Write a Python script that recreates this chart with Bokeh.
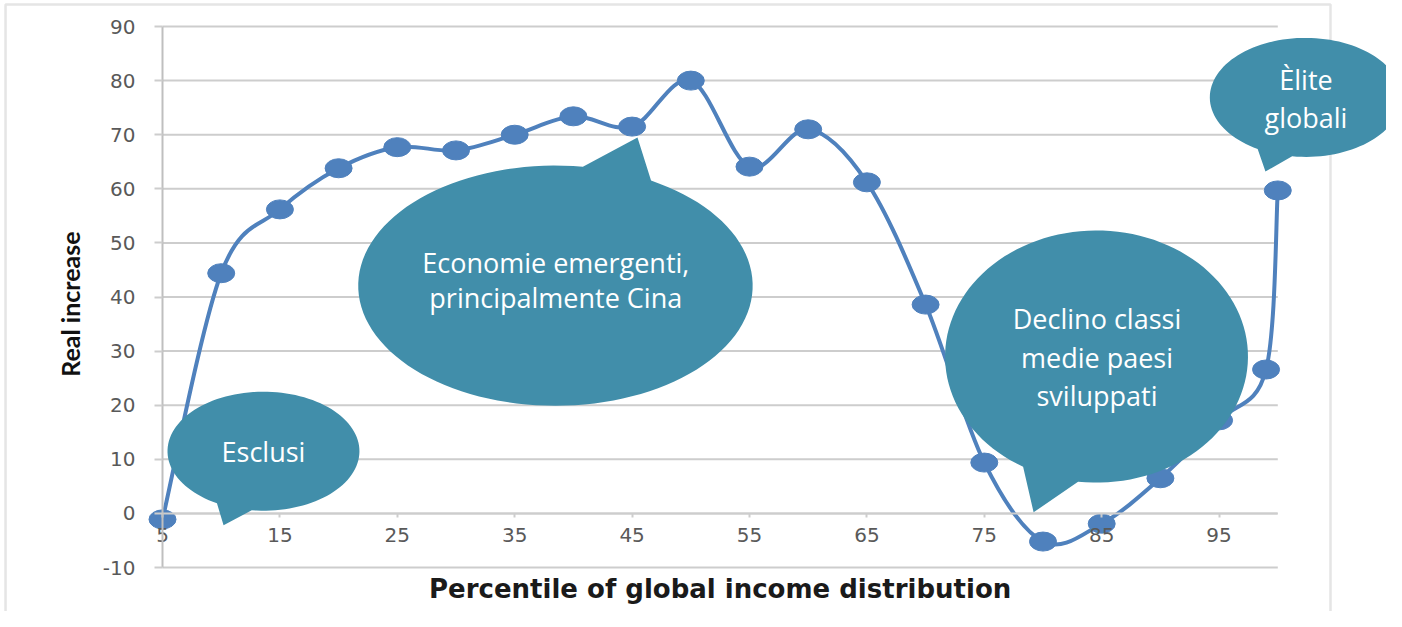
import numpy as np
from bokeh.plotting import figure
from bokeh.models import Range1d, FixedTicker, Label, PolyAnnotation
from bokeh.embed import file_html
from bokeh.resources import INLINE

# ---------------- data ----------------
percentile = [5, 10, 15, 20, 25, 30, 35, 40, 45, 50, 55, 60, 65, 70, 75, 80, 85, 90, 95, 99, 100]
real_increase = [-1.1, 44.4, 56.2, 63.8, 67.7, 67.1, 70.0, 73.4, 71.5, 80.0, 64.1, 71.0,
                 61.2, 38.6, 9.4, -5.2, -1.9, 6.5, 17.2, 26.6, 59.7]
x_tick_labels = [5, 15, 25, 35, 45, 55, 65, 75, 85, 95]
y_tick_labels = [-10, 0, 10, 20, 30, 40, 50, 60, 70, 80, 90]

x_title = "Percentile of global income distribution"
y_title = "Real increase"

callout_texts = [
    ["Esclusi"],
    ["Economie emergenti,", "principalmente Cina"],
    ["Declino classi", "medie paesi", "sviluppati"],
    ["Èlite", "globali"],
]

# ---------------- styles ----------------
LINE_COLOR = "#4F81BD"
BUBBLE = "#418EAA"
GRID = "#cdcdcd"
TICK_TXT = "#595959"
X_MIN, X_MAX = 5, 100
Y_MIN, Y_MAX = -10, 90

# the frame fills the whole canvas; axes sit at fixed data positions
p = figure(width=1386, height=611,
           x_range=Range1d(-8.80, 109.26), y_range=Range1d(-18.13, 94.81),
           output_backend="svg", toolbar_location=None,
           min_border_left=0, min_border_right=0, min_border_top=0, min_border_bottom=0)
p.outline_line_color = None
p.background_fill_color = "white"
p.border_fill_color = "white"
p.xgrid.visible = False
p.ygrid.visible = False

# gridlines limited to the plot area
p.segment(x0=[X_MIN] * len(y_tick_labels), y0=y_tick_labels,
          x1=[X_MAX] * len(y_tick_labels), y1=y_tick_labels,
          line_color=GRID, line_width=2, level="underlay")

# x axis crossing at 0
xa = p.xaxis[0]
xa.fixed_location = 0
xa.bounds = (X_MIN, X_MAX)
xa.ticker = FixedTicker(ticks=x_tick_labels)
xa.major_tick_out = 4
xa.major_tick_in = 0
xa.minor_tick_out = 0
xa.minor_tick_in = 0
xa.axis_line_color = GRID
xa.axis_line_width = 2
xa.major_tick_line_color = GRID
xa.major_tick_line_width = 2
xa.major_label_text_font = "DejaVu Sans"
xa.major_label_text_font_size = "20px"
xa.major_label_text_color = TICK_TXT
xa.major_label_standoff = 11

ya = p.yaxis[0]
ya.fixed_location = X_MIN
ya.bounds = (Y_MIN, Y_MAX)
ya.ticker = FixedTicker(ticks=y_tick_labels)
ya.major_label_overrides = {-10: "-10"}
ya.major_tick_out = 8
ya.major_tick_in = 0
ya.minor_tick_out = 0
ya.minor_tick_in = 0
ya.axis_line_color = "#bfbfbf"
ya.axis_line_width = 2
ya.major_tick_line_color = GRID
ya.major_tick_line_width = 2
ya.major_label_text_font = "DejaVu Sans"
ya.major_label_text_font_size = "20px"
ya.major_label_text_color = TICK_TXT
ya.major_label_standoff = 19

# outer chart border
p.add_layout(PolyAnnotation(xs=[-8.37, -8.37, 104.49, 104.49], ys=[-30, 94.09, 94.09, -30],
                            fill_color=None, line_color="#a8a8a8", line_width=2.5))

# axis titles
p.add_layout(Label(x=52.5, y=-13.9, text=x_title, text_align="center", text_baseline="middle",
                   text_font="DejaVu Sans", text_font_style="bold", text_font_size="26px",
                   text_color="#1a1a1a"))
p.add_layout(Label(x=-2.9, y=38.7, text=y_title, angle=np.pi / 2, text_align="center",
                   text_baseline="middle", text_font="Lato", text_font_style="bold",
                   text_font_size="25px", text_color="#111111"))

# ---------------- smooth line (Excel-style bezier through the data) ----------------
P = np.column_stack([percentile, real_increase]).astype(float)
n = len(P)
x0, y0, x1, y1, cx0, cy0, cx1, cy1 = ([] for _ in range(8))
for i in range(n - 1):
    a = P[i - 1] if i > 0 else P[i]
    b, c = P[i], P[i + 1]
    d = P[i + 2] if i + 2 < n else P[i + 1]
    c1 = b + (c - a) / 6.0
    c2 = c - (d - b) / 6.0
    x0.append(b[0]); y0.append(b[1]); x1.append(c[0]); y1.append(c[1])
    cx0.append(c1[0]); cy0.append(c1[1]); cx1.append(c2[0]); cy1.append(c2[1])
p.bezier(x0=x0, y0=y0, x1=x1, y1=y1, cx0=cx0, cy0=cy0, cx1=cx1, cy1=cy1,
         line_color=LINE_COLOR, line_width=4)
p.ellipse(x=percentile, y=real_increase, width=27, height=19,
          width_units="screen", height_units="screen",
          fill_color=LINE_COLOR, line_color=LINE_COLOR)

# ---------------- callouts ----------------
def bubble(cx, cy, w, h, a_lo, a_hi, tip):
    th = np.radians(np.linspace(a_hi, a_lo + 360, 120))
    xs = list(cx + w / 2 * np.cos(th)) + [tip[0]]
    ys = list(cy + h / 2 * np.sin(th)) + [tip[1]]
    p.add_layout(PolyAnnotation(xs=xs, ys=ys, fill_color=BUBBLE, fill_alpha=1.0,
                                line_color=None))

callouts = [
    dict(c=(13.6, 11.5), w=16.35, h=22.0, a=(241, 263), tip=(10.2, -2.2), tx=13.6, ty=[11.5]),
    dict(c=(38.47, 42.1), w=33.6, h=44.4, a=(61, 82), tip=(45.46, 69.5), tx=38.5, ty=[46.4, 39.9]),
    dict(c=(84.56, 29.0), w=25.8, h=46.6, a=(241, 263), tip=(79.2, 0.2), tx=84.6, ty=[36.0, 28.8, 21.8]),
    dict(c=(102.36, 76.9), w=16.3, h=22.0, a=(240, 262), tip=(98.95, 63.2), tx=102.4, ty=[80.2, 73.2]),
]
for co, lines in zip(callouts, callout_texts):
    bubble(co["c"][0], co["c"][1], co["w"], co["h"], co["a"][0], co["a"][1], co["tip"])
    for t, yy in zip(lines, co["ty"]):
        p.add_layout(Label(x=co["tx"], y=yy, text=t, text_align="center", text_baseline="middle",
                           text_font="Open Sans", text_font_size="27px", text_color="white"))

open("out.html", "w").write(file_html(p, INLINE))
